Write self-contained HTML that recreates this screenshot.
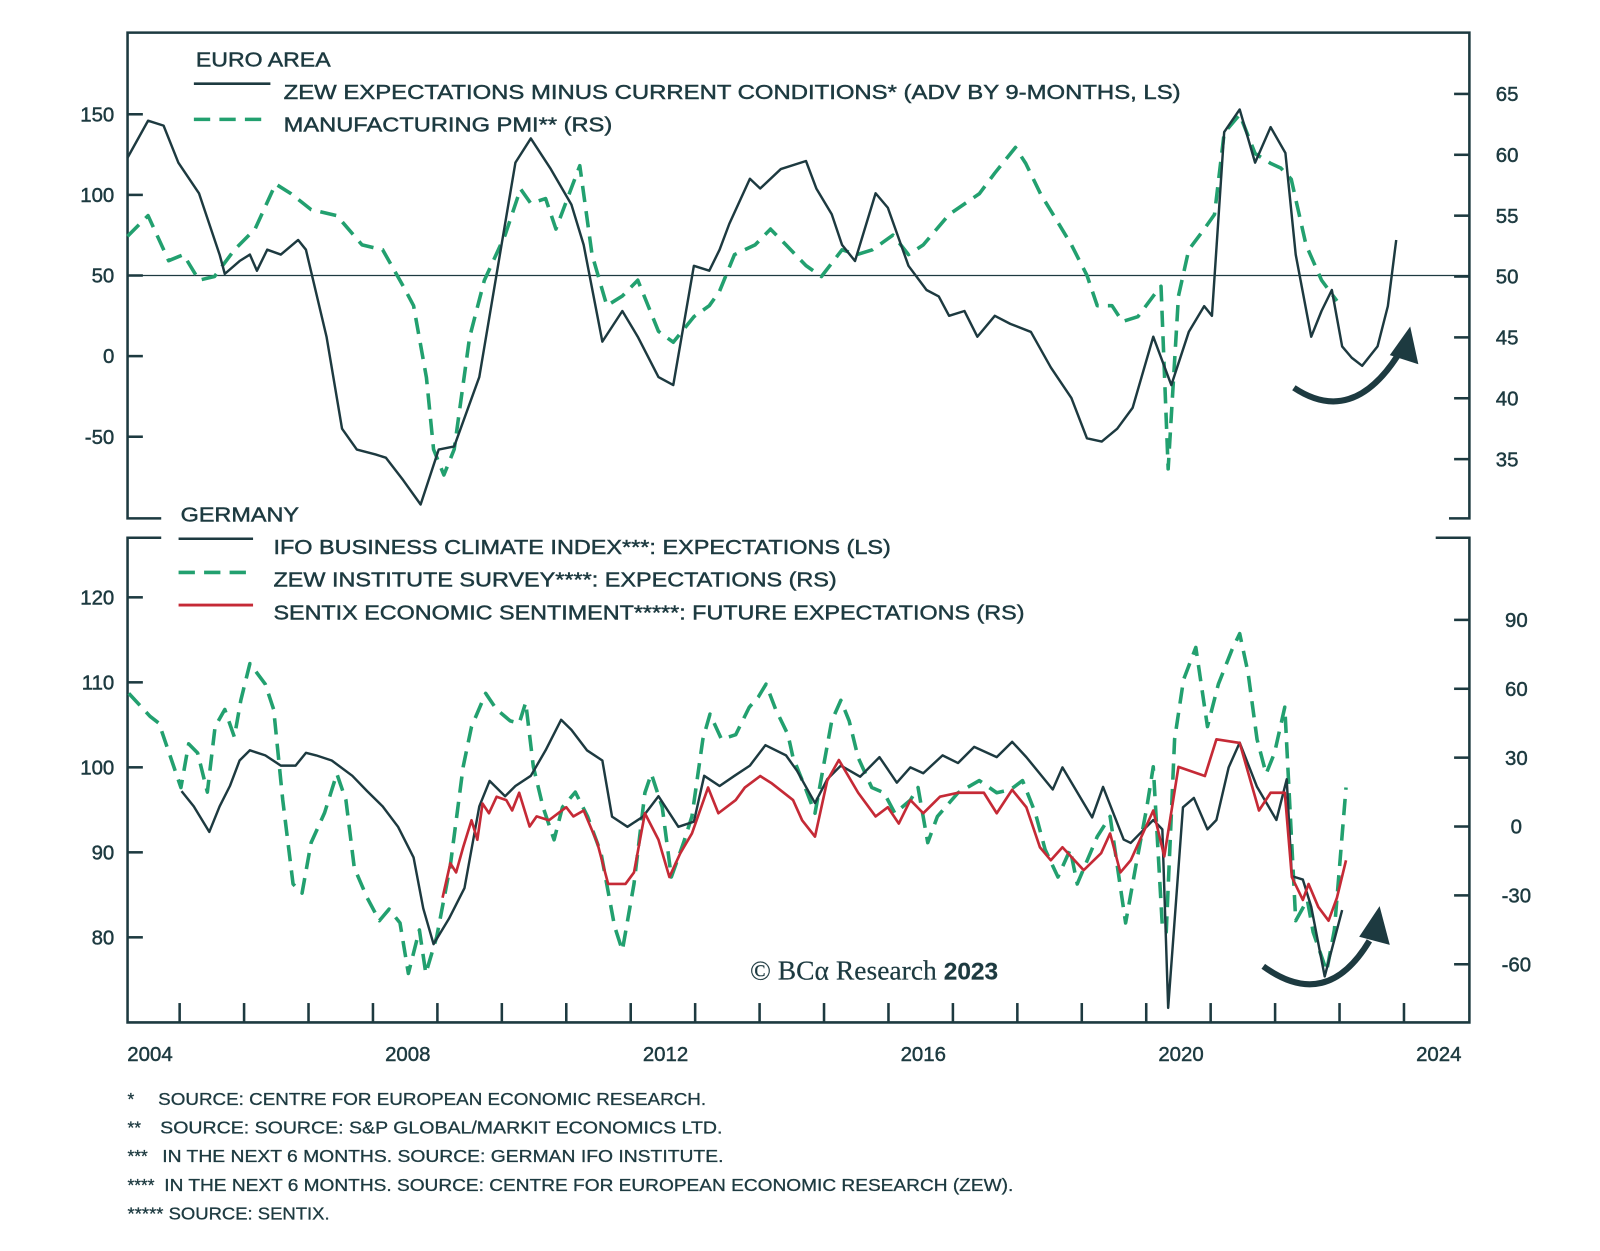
<!DOCTYPE html>
<html><head><meta charset="utf-8"><style>
html,body{margin:0;padding:0;background:#fff;}
svg{display:block;}
text{font-family:"Liberation Sans",sans-serif;fill:#1d3a40;stroke:#1d3a40;stroke-width:0.45px;}
.fn text{stroke-width:0.3px;}
</style></head>
<body>
<svg id="chart" width="1600" height="1251" viewBox="0 0 1568 1226" preserveAspectRatio="none" xmlns="http://www.w3.org/2000/svg">
<g id="frame" stroke="#1d3a40" stroke-width="2.5" fill="none">
<path d="M158,508 H125 V32 H1440 V508 H1420"/>
<path d="M158,527 H125 V1002 H1440 V527 H1407"/>
</g>
<line x1="125" x2="1440" y1="270" y2="270" stroke="#1d3a40" stroke-width="1.3"/>
<g id="ticks"></g>
<g id="series"></g>

<text x="192" y="65" font-size="20" textLength="132" lengthAdjust="spacingAndGlyphs">EURO AREA</text>
<line x1="190" x2="265" y1="82" y2="82" stroke="#1d3a40" stroke-width="2.5"/>
<text x="278" y="97" font-size="20" textLength="879" lengthAdjust="spacingAndGlyphs">ZEW EXPECTATIONS MINUS CURRENT CONDITIONS* (ADV BY 9-MONTHS, LS)</text>
<line x1="190" x2="265" y1="117" y2="117" stroke="#22a06f" stroke-width="3.5" stroke-dasharray="16 9"/>
<text x="278" y="129" font-size="20" textLength="322" lengthAdjust="spacingAndGlyphs">MANUFACTURING PMI** (RS)</text>

<text x="177" y="511" font-size="20" textLength="116" lengthAdjust="spacingAndGlyphs">GERMANY</text>
<line x1="175" x2="248" y1="528" y2="528" stroke="#1d3a40" stroke-width="2.5"/>
<text x="268" y="543" font-size="20" textLength="605" lengthAdjust="spacingAndGlyphs">IFO BUSINESS CLIMATE INDEX***: EXPECTATIONS (LS)</text>
<line x1="175" x2="248" y1="561" y2="561" stroke="#22a06f" stroke-width="3.5" stroke-dasharray="16 9"/>
<text x="268" y="575" font-size="20" textLength="552" lengthAdjust="spacingAndGlyphs">ZEW INSTITUTE SURVEY****: EXPECTATIONS (RS)</text>
<line x1="175" x2="248" y1="593" y2="593" stroke="#c52a36" stroke-width="2.8"/>
<text x="268" y="607" font-size="20" textLength="736" lengthAdjust="spacingAndGlyphs">SENTIX ECONOMIC SENTIMENT*****: FUTURE EXPECTATIONS (RS)</text>

<text x="735" y="960" font-size="27" style="font-family:'Liberation Serif',serif;stroke-width:0.2px">© BCα Research <tspan font-weight="bold" style="font-family:'Liberation Sans',sans-serif" font-size="24">2023</tspan></text>

<path d="M1268,380 Q1325,418 1370,348" fill="none" stroke="#1d3a40" stroke-width="6"/>
<polygon points="1382,320 1362,348 1390,357" fill="#1d3a40"/>
<path d="M1238,947 Q1300,992 1342,922" fill="none" stroke="#1d3a40" stroke-width="6"/>
<polygon points="1352,888 1332,918 1362,926" fill="#1d3a40"/>

<g class="fn" font-size="17">
<text x="125" y="1083">*</text><text x="155" y="1083" textLength="537" lengthAdjust="spacingAndGlyphs">SOURCE: CENTRE FOR EUROPEAN ECONOMIC RESEARCH.</text>
<text x="125" y="1111">**</text><text x="157" y="1111" textLength="551" lengthAdjust="spacingAndGlyphs">SOURCE: SOURCE: S&amp;P GLOBAL/MARKIT ECONOMICS LTD.</text>
<text x="125" y="1139">***</text><text x="159" y="1139" textLength="550" lengthAdjust="spacingAndGlyphs">IN THE NEXT 6 MONTHS. SOURCE: GERMAN IFO INSTITUTE.</text>
<text x="125" y="1167">****</text><text x="161" y="1167" textLength="832" lengthAdjust="spacingAndGlyphs">IN THE NEXT 6 MONTHS. SOURCE: CENTRE FOR EUROPEAN ECONOMIC RESEARCH (ZEW).</text>
<text x="125" y="1195" textLength="198" lengthAdjust="spacingAndGlyphs">***** SOURCE: SENTIX.</text>
</g>
</svg>
<script>
const xTickYears = [2004, 2008, 2012, 2016, 2020, 2024];
const topLeftTicks = [150, 100, 50, 0, -50];
const topRightTicks = [65, 60, 55, 50, 45, 40, 35];
const botLeftTicks = [120, 110, 100, 90, 80];
const botRightTicks = [90, 60, 30, 0, -30, -60];

const zewDiffDates = [2003.65,2003.97,2004.21,2004.44,2004.76,2005.08,2005.16,2005.39,2005.55,2005.66,2005.82,2006.03,2006.30,2006.42,2006.74,2006.98,2007.21,2007.50,2007.66,2007.93,2008.20,2008.48,2008.72,2009.11,2009.43,2009.67,2009.91,2010.22,2010.54,2010.73,2011.02,2011.33,2011.57,2011.89,2012.12,2012.44,2012.68,2012.84,2012.99,2013.31,2013.47,2013.79,2014.18,2014.34,2014.58,2014.74,2014.94,2015.26,2015.45,2015.77,2016.05,2016.24,2016.40,2016.64,2016.84,2017.11,2017.35,2017.67,2017.98,2018.30,2018.54,2018.77,2019.01,2019.25,2019.57,2019.85,2020.12,2020.36,2020.48,2020.67,2020.91,2021.15,2021.39,2021.62,2021.78,2022.02,2022.18,2022.34,2022.50,2022.65,2022.81,2023.05,2023.21,2023.34];
const zewDiffValues = [123,146,143,120,101,63,51,59,63,53,66,63,72,66,12,-45,-58,-61,-63,-77,-92,-58,-56,-13,63,120,135,116,94,69,9,28,12,-13,-18,56,53,66,82,110,104,116,121,104,88,69,59,101,92,56,41,37,25,28,12,25,20,15,-7,-26,-51,-53,-45,-32,12,-18,15,31,25,139,153,120,142,126,63,12,28,41,6,-1,-6,6,31,72];

const pmiDates = [2003.65,2003.97,2004.29,2004.52,2004.76,2005.00,2005.31,2005.63,2005.95,2006.19,2006.50,2006.90,2007.29,2007.61,2007.93,2008.09,2008.29,2008.40,2008.56,2008.72,2008.96,2009.19,2009.51,2009.75,2009.91,2010.14,2010.30,2010.67,2010.86,2011.09,2011.33,2011.57,2011.89,2012.12,2012.44,2012.68,2012.84,2013.07,2013.39,2013.63,2013.87,2014.18,2014.42,2014.74,2014.97,2015.21,2015.53,2015.77,2016.00,2016.40,2016.87,2017.11,2017.43,2017.59,2017.82,2018.06,2018.30,2018.54,2018.70,2018.93,2019.09,2019.33,2019.57,2019.69,2019.80,2019.96,2020.12,2020.36,2020.52,2020.67,2020.91,2021.15,2021.39,2021.55,2021.71,2021.94,2022.18,2022.42];
const pmiValues = [53.3,55,51.3,51.8,49.7,50,52.2,53.9,57.6,56.8,55.5,55,52.6,52.2,49.2,47.6,41.7,35.8,33.7,35.8,45,49.7,53.4,57.2,56,56.4,53.9,59.1,51.8,47.6,48.4,49.7,45.5,44.6,46.7,47.6,48.8,51.8,52.6,53.9,52.6,50.9,50,52.2,51.8,52.2,53.4,51.8,52.6,55.1,56.8,58.5,60.6,59.3,56.8,54.7,52.6,50.1,47.6,47.6,46.3,46.7,48.4,49.2,34.2,48.4,52.2,53.9,55.1,61.8,63.3,60.1,59.3,58.9,58,52.6,49.7,48];

const ifoDates = [2004.49,2004.68,2004.92,2005.08,2005.24,2005.39,2005.55,2005.79,2006.03,2006.26,2006.42,2006.58,2006.82,2007.14,2007.37,2007.61,2007.85,2008.09,2008.24,2008.40,2008.64,2008.88,2009.11,2009.27,2009.51,2009.67,2009.91,2010.14,2010.38,2010.54,2010.78,2011.02,2011.17,2011.41,2011.65,2011.89,2012.20,2012.44,2012.60,2012.84,2013.07,2013.31,2013.55,2013.87,2014.04,2014.32,2014.51,2014.72,2015.02,2015.32,2015.59,2015.80,2016.00,2016.30,2016.54,2016.79,2017.14,2017.38,2017.60,2018.01,2018.16,2018.62,2018.79,2019.11,2019.22,2019.57,2019.71,2019.80,2020.03,2020.20,2020.41,2020.55,2020.74,2020.91,2021.18,2021.48,2021.64,2021.72,2021.89,2022.02,2022.23,2022.50];
const ifoValues = [97.2,95.4,92.4,95.4,97.8,100.8,102,101.4,100.2,100.2,101.7,101.4,100.8,99,97.2,95.4,93,89.4,83.4,79.2,82.2,85.8,95.4,98.4,96.6,97.8,99,102,105.6,104.4,102,100.8,94.2,93,94.2,96.6,93,93.6,99,97.8,99,100.2,102.6,101.4,99.6,95.8,98.6,100.2,98.9,101.2,98.2,100,99.3,101.4,100.5,102.4,101.2,103,101.2,97.4,100,94.1,97.7,91.5,91.1,93.8,92.7,71.7,95.3,96.4,92.7,93.8,100,102.9,97.7,93.8,98.6,87.2,86.8,83.6,75.4,83.2];

const zewDates = [2003.67,2004.00,2004.14,2004.48,2004.60,2004.74,2004.89,2005.01,2005.16,2005.31,2005.41,2005.55,2005.79,2005.92,2006.06,2006.22,2006.36,2006.50,2006.71,2006.90,2007.04,2007.17,2007.37,2007.56,2007.71,2007.88,2008.01,2008.18,2008.28,2008.45,2008.66,2008.86,2008.99,2009.21,2009.38,2009.59,2009.73,2009.83,2009.95,2010.10,2010.27,2010.40,2010.60,2010.79,2011.00,2011.21,2011.33,2011.51,2011.68,2011.78,2011.95,2012.09,2012.28,2012.41,2012.58,2012.69,2012.87,2013.09,2013.30,2013.44,2013.56,2013.71,2013.90,2013.98,2014.18,2014.32,2014.45,2014.58,2014.72,2014.85,2014.99,2015.20,2015.39,2015.56,2015.80,2015.92,2016.07,2016.22,2016.54,2016.87,2017.14,2017.35,2017.54,2017.74,2017.89,2018.09,2018.28,2018.39,2018.70,2018.90,2019.14,2019.30,2019.47,2019.57,2019.71,2019.77,2019.90,2020.04,2020.23,2020.41,2020.58,2020.79,2020.91,2021.04,2021.18,2021.32,2021.45,2021.61,2021.69,2021.78,2021.96,2022.05,2022.26,2022.38,2022.56];
const zewValues = [58,48,45,17,36,32,15,43.5,51,39,55,71,62,51,11.5,-25,-29,-7,6,23,11.5,-18,-31,-41,-36,-42,-64,-45,-64,-48,-17,26,43.5,58,51,46,45,54,26,8.4,-5.8,8.4,15,4.4,-11.6,-43.5,-54,-25,14.7,23,8.4,-22,-7,4.4,38,49,38,40,52,56.4,62,51,40,30,16,5.8,26,46,55,46,30,17,14.7,5.8,11.5,17,-7,4.4,14.7,20,14.7,16,20,5.8,-10,-22,-10,-25,-4.4,4.4,-42,-17,8.4,26,-43.5,-46,38,64,78,43.5,62,77,84,67,38,23,32,52,8.4,-41,-32,-46,-63,-45,17];

const sentixDates = [2008.54,2008.66,2008.75,2008.86,2008.99,2009.08,2009.16,2009.26,2009.38,2009.53,2009.62,2009.73,2009.89,2010.00,2010.19,2010.46,2010.57,2010.73,2010.94,2011.11,2011.38,2011.51,2011.68,2011.89,2012.06,2012.23,2012.41,2012.66,2012.82,2013.09,2013.23,2013.47,2013.64,2013.98,2014.12,2014.32,2014.51,2014.69,2014.99,2015.26,2015.45,2015.62,2015.80,2016.00,2016.26,2016.54,2016.94,2017.14,2017.38,2017.60,2017.81,2017.98,2018.16,2018.49,2018.76,2018.90,2019.06,2019.22,2019.57,2019.74,2019.96,2020.37,2020.55,2020.91,2021.21,2021.39,2021.61,2021.72,2021.89,2021.98,2022.13,2022.29,2022.42,2022.56];
const sentixValues = [-31,-16,-20,-9,2.7,-5.8,10,5.8,13,11.5,7,14.7,0,4.4,2.7,8.4,4.4,7,-7,-25,-25,-20,5.8,-5.8,-22,-11.6,-3,17,5.8,11.5,17,22,19,11.5,2.7,-4.4,20,29,14.7,4.4,8.4,1.3,11.5,5.8,13,14.7,14.7,5.8,16,8.4,-9,-14.7,-9,-19,-11.6,-3,-20,-14.7,7,-13,26,22,38,36.4,7,14.7,14.7,-22,-32,-25,-35,-41,-31,-14.7];

const NS = "http://www.w3.org/2000/svg";
function xS(y){ return 147 + (y - 2004) * 63.15; }
function yTopL(v){ return 349 - v * 1.58; }
function yTopR(v){ return 271 - (v - 50) * 11.93; }
function yBotL(v){ return 752 - (v - 100) * 8.33; }
function yBotR(v){ return 810 - v * 2.25; }

const ticksG = document.getElementById('ticks');
const seriesG = document.getElementById('series');
function mk(tag, attrs, parent){ const e = document.createElementNS(NS, tag); for (const k in attrs) e.setAttribute(k, attrs[k]); parent.appendChild(e); return e; }

function axis(ticks, scale, x1, x2, lx, anchor, name){
  ticks.forEach(t => {
    const y = scale(t);
    const l = mk('line', {x1:x1, x2:x2, y1:y, y2:y, stroke:'#1d3a40', 'stroke-width':2.5}, ticksG);
    
    
    const tx = mk('text', {x:lx, y:y + 7, 'font-size':20, 'text-anchor':anchor}, ticksG);
    
    
    tx.textContent = String(t);
  });
}
axis(topLeftTicks, yTopL, 125, 140, 112, 'end', 'top-left-axis');
axis(topRightTicks, yTopR, 1425, 1440, 1477, 'middle', 'top-right-axis');
axis(botLeftTicks, yBotL, 125, 140, 112, 'end', 'bottom-left-axis');
axis(botRightTicks, yBotR, 1425, 1440, 1486, 'middle', 'bottom-right-axis');

for (let k = 0; k < 20; k++) {
  const x = xS(2004.46 + k);
  const l = mk('line', {x1:x, x2:x, y1:983, y2:1002, stroke:'#1d3a40', 'stroke-width':2.5}, ticksG);
  
  
}
xTickYears.forEach(yr => {
  const t = mk('text', {x:xS(yr), y:1040, 'font-size':20, 'text-anchor':'middle'}, ticksG);
  
  
  t.textContent = String(yr);
});

function line(dates, vals, ys, style, name){
  const d = dates.map((t, i) => (i ? 'L' : 'M') + xS(t).toFixed(1) + ',' + ys(vals[i]).toFixed(1)).join(' ');
  const p = mk('path', Object.assign({d:d, fill:'none', 'stroke-linejoin':'round'}, style), seriesG);
  
  
}
const dash = {stroke:'#22a06f', 'stroke-width':3.5, 'stroke-dasharray':'16 9'};
line(pmiDates, pmiValues, yTopR, dash, 'pmi-line');
line(zewDiffDates, zewDiffValues, yTopL, {stroke:'#1d3a40', 'stroke-width':2.4}, 'zew-diff-line');
line(zewDates, zewValues, yBotR, dash, 'zew-germany-line');
line(ifoDates, ifoValues, yBotL, {stroke:'#1d3a40', 'stroke-width':2.4}, 'ifo-line');
line(sentixDates, sentixValues, yBotR, {stroke:'#c52a36', 'stroke-width':2.6}, 'sentix-line');
</script>
</body></html>
